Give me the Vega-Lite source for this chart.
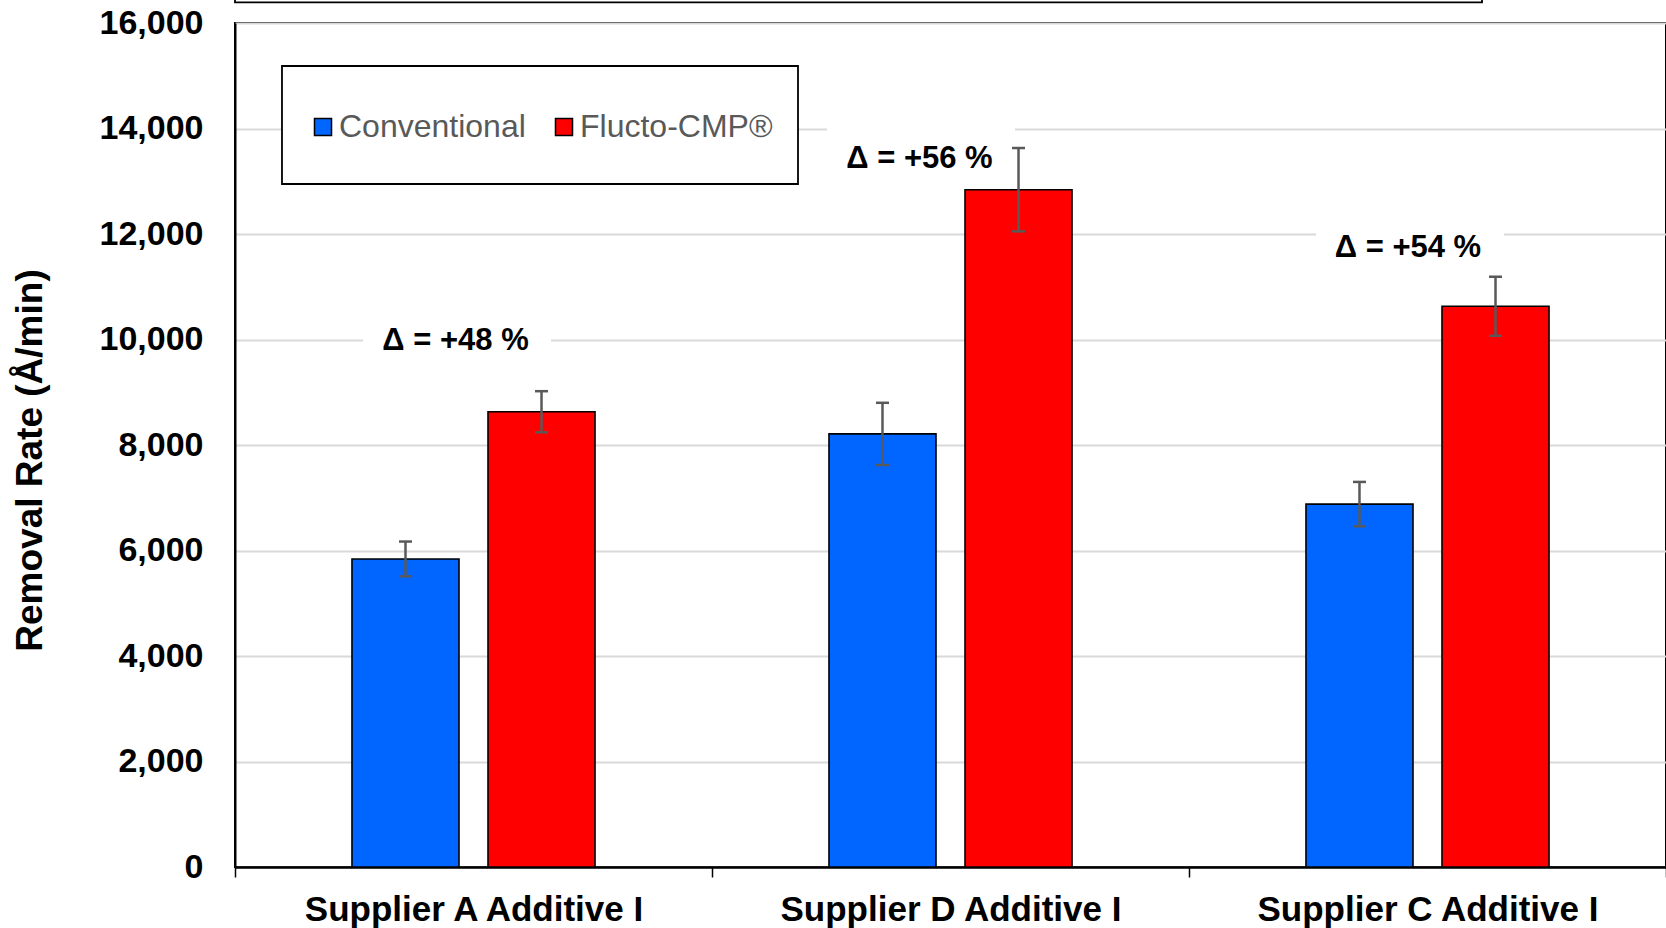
{
  "$schema": "https://vega.github.io/schema/vega-lite/v6.json",
  "width": 1431,
  "height": 844,
  "autosize": {"type": "none"},
  "padding": {"left": 235, "top": 23, "right": 0, "bottom": 61},
  "background": "white",
  "config": {
    "font": "Liberation Sans",
    "view": {"stroke": "black", "strokeWidth": 2}
  },
  "datasets": {
    "bars": [
      {"supplier": "Supplier A Additive I", "process": "Conventional", "rate": 5840, "lo": 5510, "hi": 6170},
      {"supplier": "Supplier A Additive I", "process": "Flucto-CMP®", "rate": 8630, "lo": 8240, "hi": 9020},
      {"supplier": "Supplier D Additive I", "process": "Conventional", "rate": 8210, "lo": 7620, "hi": 8800},
      {"supplier": "Supplier D Additive I", "process": "Flucto-CMP®", "rate": 12840, "lo": 12050, "hi": 13630},
      {"supplier": "Supplier C Additive I", "process": "Conventional", "rate": 6880, "lo": 6460, "hi": 7300},
      {"supplier": "Supplier C Additive I", "process": "Flucto-CMP®", "rate": 10630, "lo": 10070, "hi": 11190}
    ],
    "notes": [
      {"label": "Δ = +48 %", "pos": 0.4623, "x1": 0.2683, "x2": 0.6625, "y": 9970, "y1": 9380, "y2": 10560},
      {"label": "Δ = +56 %", "pos": 1.435, "x1": 1.2411, "x2": 1.6352, "y": 13430, "y1": 12840, "y2": 14060},
      {"label": "Δ = +54 %", "pos": 2.4591, "x1": 2.2662, "x2": 2.6604, "y": 11730, "y1": 11140, "y2": 12320}
    ],
    "frames": [
      {"name": "legend box", "x1": 0.0985, "x2": 1.1803, "y1": 12948, "y2": 15185},
      {"name": "title box", "x1": 0, "x2": 2.6143, "y1": 16390, "y2": 18500}
    ]
  },
  "layer": [
    {
      "layer": [
        {
          "data": {"name": "frames"},
          "mark": {"type": "rect", "fill": "white", "stroke": "black", "strokeWidth": 1.8},
          "encoding": {
            "x": {"field": "x1", "type": "quantitative", "scale": {"domain": [0, 3], "nice": false, "zero": false}, "axis": null},
            "x2": {"field": "x2"},
            "y": {"field": "y1", "type": "quantitative", "scale": {"domain": [0, 16000], "nice": false}, "title": "Removal Rate (Å/min)"},
            "y2": {"field": "y2"}
          }
        },
        {
          "data": {"name": "notes"},
          "mark": {"type": "rect", "fill": "white"},
          "encoding": {
            "x": {"field": "x1", "type": "quantitative", "scale": {"domain": [0, 3], "nice": false, "zero": false}, "axis": null},
            "x2": {"field": "x2"},
            "y": {"field": "y1", "type": "quantitative", "scale": {"domain": [0, 16000], "nice": false}, "title": "Removal Rate (Å/min)"},
            "y2": {"field": "y2"}
          }
        },
        {
          "data": {"name": "notes"},
          "mark": {"type": "text", "font": "Liberation Sans", "fontSize": 31, "fontWeight": "bold", "color": "black", "align": "center", "baseline": "middle"},
          "encoding": {
            "x": {"field": "pos", "type": "quantitative", "scale": {"domain": [0, 3], "nice": false, "zero": false}, "axis": null},
            "y": {"field": "y", "type": "quantitative", "scale": {"domain": [0, 16000], "nice": false}, "title": "Removal Rate (Å/min)"},
            "text": {"field": "label"}
          }
        }
      ]
    },
    {
      "data": {"name": "bars"},
      "encoding": {
        "x": {
          "field": "supplier",
          "type": "nominal",
          "sort": ["Supplier A Additive I", "Supplier D Additive I", "Supplier C Additive I"],
          "scale": {"paddingInner": 0, "paddingOuter": 0},
          "axis": {
            "title": null,
            "labelAngle": 0,
            "labelFont": "Liberation Sans",
            "labelFontSize": 35,
            "labelFontWeight": "bold",
            "labelColor": "black",
            "labelPadding": 15,
            "labelLimit": 1000,
            "tickBand": "extent",
            "tickSize": 10,
            "tickColor": "black",
            "tickWidth": 1.5,
            "domainColor": "black",
            "domainWidth": 2.5,
            "grid": false
          }
        },
        "xOffset": {
          "field": "process",
          "type": "nominal",
          "sort": ["Conventional", "Flucto-CMP®"],
          "scale": {"paddingInner": 0.2132, "paddingOuter": 0.86}
        }
      },
      "layer": [
        {
          "mark": {"type": "bar", "stroke": "black", "strokeWidth": 1.6},
          "encoding": {
            "y": {
              "field": "rate",
              "type": "quantitative",
              "scale": {"domain": [0, 16000], "nice": false},
              "title": "Removal Rate (Å/min)",
              "axis": {
                "values": [0, 2000, 4000, 6000, 8000, 10000, 12000, 14000, 16000],
                "format": ",.0f",
                "labelFont": "Liberation Sans",
                "labelFontSize": 34,
                "labelFontWeight": "bold",
                "labelColor": "black",
                "ticks": false,
                "labelPadding": 32,
                "gridColor": "#D9D9D9",
                "gridWidth": 2,
                "domainColor": "black",
                "domainWidth": 2,
                "titleFont": "Liberation Sans",
                "titleFontSize": 37,
                "titleFontWeight": "bold",
                "titleColor": "black",
                "titlePadding": 50,
                "titleY": 437
              }
            },
            "color": {
              "field": "process",
              "type": "nominal",
              "scale": {"domain": ["Conventional", "Flucto-CMP®"], "range": ["#0066FF", "#FF0000"]},
              "legend": {
                "title": null,
                "orient": "none",
                "legendX": 72,
                "legendY": 88,
                "direction": "horizontal",
                "padding": 0,
                "labelFont": "Liberation Sans",
                "labelFontSize": 32,
                "labelColor": "#595959",
                "labelLimit": 500,
                "labelOffset": 0,
                "columnPadding": 22,
                "symbolType": "square",
                "symbolSize": 290,
                "symbolStrokeColor": "black",
                "symbolStrokeWidth": 1.5,
                "symbolOpacity": 1
              }
            }
          }
        },
        {
          "mark": {"type": "rule", "color": "#595959", "strokeWidth": 2.5},
          "encoding": {
            "y": {"field": "lo", "type": "quantitative", "scale": {"domain": [0, 16000], "nice": false}, "title": "Removal Rate (Å/min)"},
            "y2": {"field": "hi"}
          }
        },
        {
          "mark": {"type": "tick", "color": "#595959", "size": 13, "thickness": 2.5, "opacity": 1},
          "encoding": {
            "y": {"field": "lo", "type": "quantitative", "scale": {"domain": [0, 16000], "nice": false}, "title": "Removal Rate (Å/min)"}
          }
        },
        {
          "mark": {"type": "tick", "color": "#595959", "size": 13, "thickness": 2.5, "opacity": 1},
          "encoding": {
            "y": {"field": "hi", "type": "quantitative", "scale": {"domain": [0, 16000], "nice": false}, "title": "Removal Rate (Å/min)"}
          }
        }
      ]
    }
  ],
  "resolve": {"scale": {"x": "independent"}}
}
